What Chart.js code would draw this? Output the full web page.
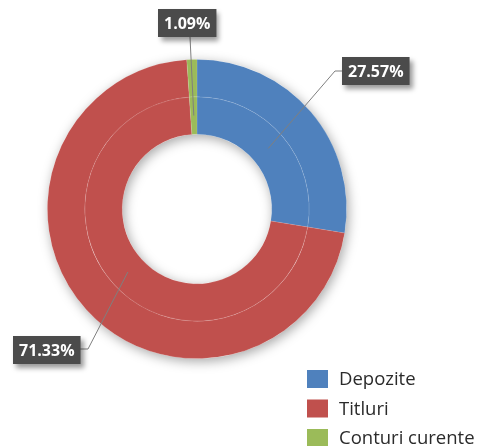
<!DOCTYPE html>
<html>
<head>
<meta charset="utf-8">
<script src="https://cdn.jsdelivr.net/npm/chart.js@4.4.1/dist/chart.umd.min.js"></script>
<style>
  html, body { margin: 0; padding: 0; background: #fff; }
  #wrap { width: 477px; height: 446px; position: relative; }
</style>
</head>
<body>
<div id="wrap"><canvas id="chart"></canvas></div>
<script>
const categories = ["Depozite", "Titluri", "Conturi curente"];
const shares = [27.57, 71.33, 1.09];
const shareLabels = ["27.57%", "71.33%", "1.09%"];
const sliceColors = ["#4f81bd", "#c0504d", "#9bbb59"];

// where the callout boxes sit (box left/top, elbow point of the leader)
const callouts = [
  { bx: 342, by: 57, elbow: [335, 71], end: [342, 71] },
  { bx: 13, by: 336, elbow: [88, 349], end: [80, 349] },
  { bx: 158, by: 9, elbow: null, end: [190, 37] }
];

const ringShadow = {
  id: "ringShadow",
  beforeDatasetsDraw(chart) {
    const outer = chart.getDatasetMeta(0).data[0];
    const inner = chart.getDatasetMeta(1).data[0];
    if (!outer || !inner) return;
    const ctx = chart.ctx;
    ctx.save();
    ctx.shadowColor = "rgba(0,0,0,0.35)";
    ctx.shadowBlur = 12;
    ctx.shadowOffsetX = 2;
    ctx.shadowOffsetY = 3;
    ctx.fillStyle = "#ffffff";
    ctx.beginPath();
    ctx.arc(outer.x, outer.y, outer.outerRadius, 0, Math.PI * 2);
    ctx.arc(outer.x, outer.y, inner.innerRadius, 0, Math.PI * 2, true);
    ctx.fill();
    ctx.restore();
  }
};

const calloutLabels = {
  id: "calloutLabels",
  afterDatasetsDraw(chart) {
    const ctx = chart.ctx;
    const meta = chart.getDatasetMeta(1);
    ctx.save();
    ctx.font = "bold 16px 'Open Sans'";
    meta.data.forEach((arc, i) => {
      const c = callouts[i];
      const p = arc.getCenterPoint();
      ctx.strokeStyle = "#7f7f7f";
      ctx.lineWidth = 1;
      ctx.beginPath();
      ctx.moveTo(p.x, p.y);
      if (c.elbow) ctx.lineTo(c.elbow[0], c.elbow[1]);
      ctx.lineTo(c.end[0], c.end[1]);
      ctx.stroke();

      const text = shareLabels[i];
      const w = ctx.measureText(text).width + 12;
      const h = 28;
      ctx.save();
      ctx.shadowColor = "rgba(0,0,0,0.4)";
      ctx.shadowBlur = 5;
      ctx.shadowOffsetX = 3;
      ctx.shadowOffsetY = 4;
      ctx.fillStyle = "#4b4b4b";
      ctx.fillRect(c.bx, c.by, w, h);
      ctx.restore();
      ctx.fillStyle = "#ffffff";
      ctx.textAlign = "center";
      ctx.textBaseline = "middle";
      ctx.fillText(text, c.bx + w / 2, c.by + h / 2 + 1);
    });
    ctx.restore();
  }
};

const sideLegend = {
  id: "sideLegend",
  afterDraw(chart) {
    const ctx = chart.ctx;
    ctx.save();
    ctx.font = "18.5px 'Open Sans'";
    ctx.textBaseline = "middle";
    ctx.textAlign = "left";
    categories.forEach((name, i) => {
      const y = 379 + i * 29.5;
      ctx.fillStyle = sliceColors[i];
      ctx.fillRect(307, y - 9, 21, 18);
      ctx.fillStyle = "#2b2b2b";
      ctx.fillText(name, 339, y + 1);
    });
    ctx.restore();
  }
};

new Chart(document.getElementById("chart"), {
  type: "doughnut",
  data: {
    labels: categories,
    datasets: [
      {
        data: shares,
        backgroundColor: sliceColors,
        borderColor: "rgba(255,255,255,0.13)",
        borderWidth: 0.8
      },
      {
        data: shares,
        backgroundColor: sliceColors,
        borderColor: "rgba(255,255,255,0.13)",
        borderWidth: 0.8
      }
    ]
  },
  options: {
    responsive: true,
    maintainAspectRatio: false,
    animation: false,
    events: [],
    cutout: "50%",
    layout: { padding: { left: 47, right: 130, top: 59, bottom: 87 } },
    plugins: {
      legend: { display: false },
      tooltip: { enabled: false }
    }
  },
  plugins: [ringShadow, calloutLabels, sideLegend]
});
</script>
</body>
</html>
